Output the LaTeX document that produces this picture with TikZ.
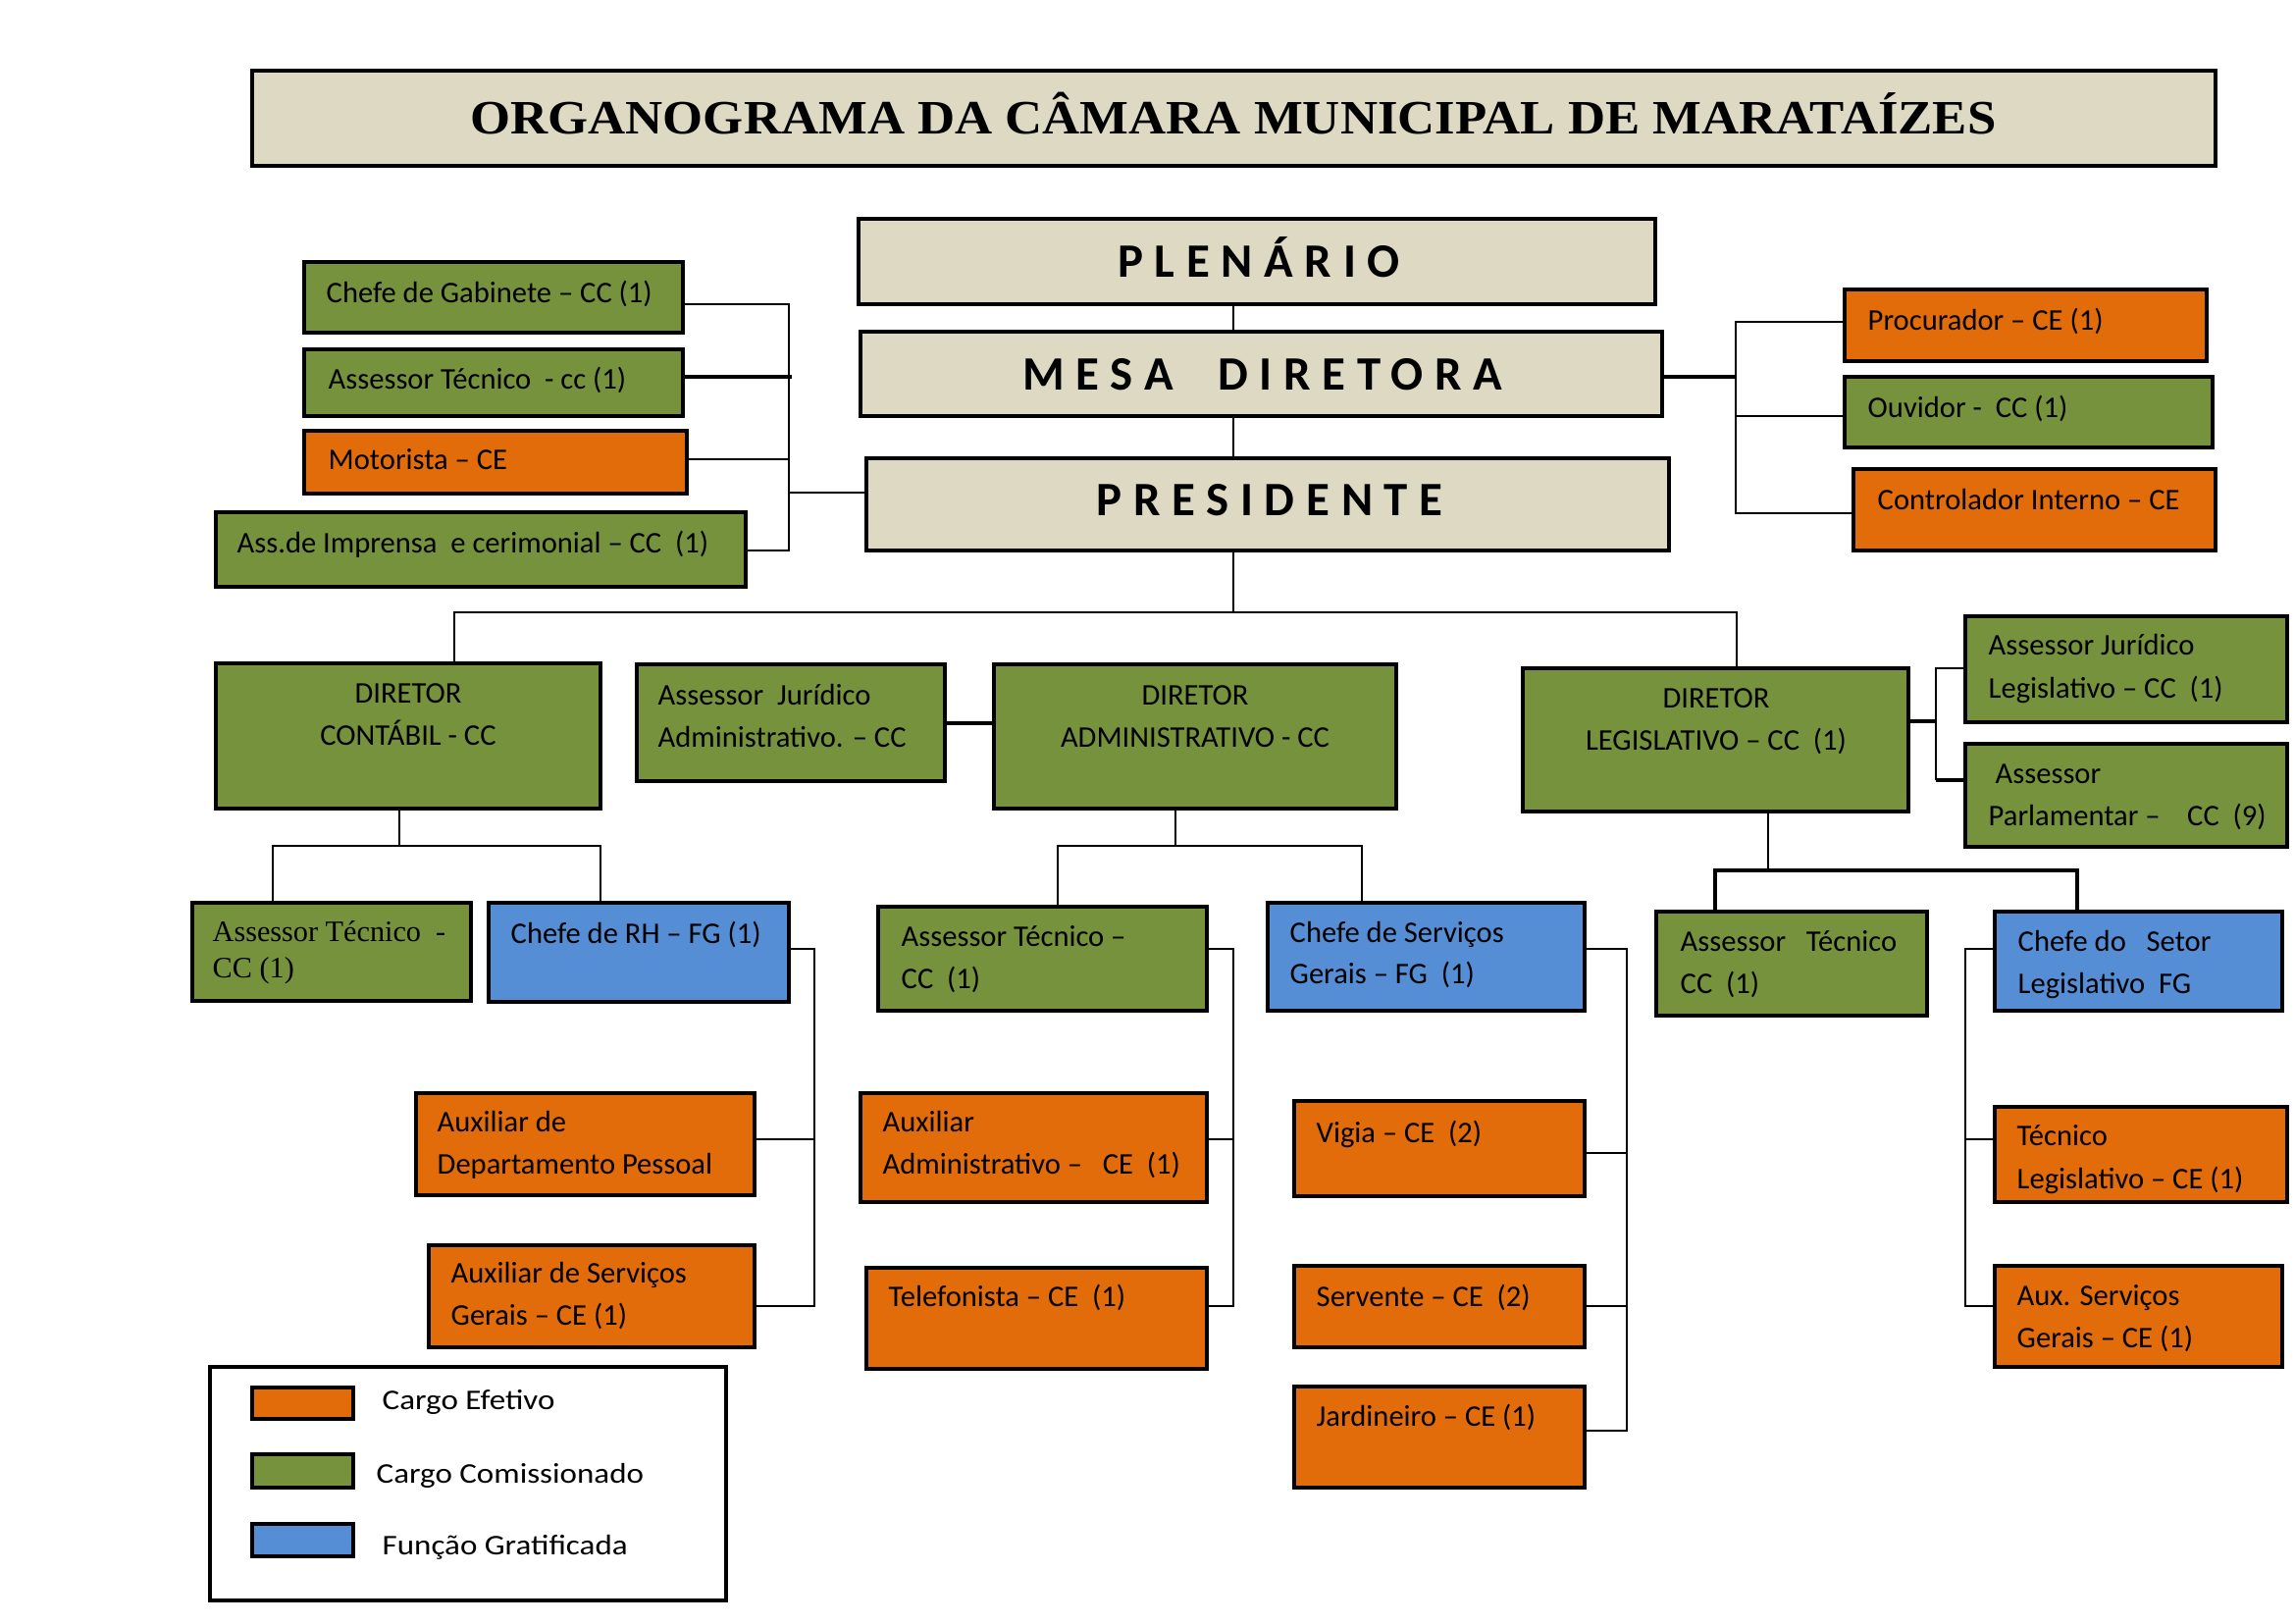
\documentclass[tikz,border=0pt]{standalone}
\usepackage{fontspec}
\setmainfont{Carlito}
\newfontfamily\tnr{Liberation Serif}
\newfontfamily\spacedfont[LetterSpace=24]{Carlito}
\usetikzlibrary{calc}
\definecolor{cgreen}{RGB}{118,146,60}
\definecolor{corange}{RGB}{227,108,10}
\definecolor{cblue}{RGB}{85,142,213}
\definecolor{cbeige}{RGB}{221,217,195}
\tikzset{
  box/.style={draw=black, line width=0.33mm, inner sep=0pt},
  ln/.style={draw=black, line width=0.27mm},
  thk/.style={draw=black, line width=0.4mm},
  txt/.style={inner sep=0pt, font=\fontsize{8.7}{11}\selectfont, text=black},
  stxt/.style={inner sep=0pt, font=\tnr\fontsize{8.6}{10}\selectfont, text=black},
  bigtxt/.style={inner sep=0pt, font=\spacedfont\bfseries\fontsize{13.9}{16}\selectfont, text=black},
}
\newcommand\bx[6]{\node[box,fill=#6,minimum width={(#4-#2)*0.1mm},minimum height={(#5-#3)*0.1mm}] (#1) at ({(#2+#4)/2},{(#3+#5)/2}) {};}
\newcommand\tl[4]{\node[txt,anchor=base west] (#1) at (#2,#3) {#4};}
\newcommand\tc[4]{\node[txt,anchor=base] (#1) at (#2,#3) {#4};}
\newcommand\legtxt[4]{\node[txt,anchor=base west] (#1) at (#2,#3) {\scalebox{1.08}[0.95]{#4}};}
\begin{document}
\begin{tikzpicture}[x=0.1mm,y=-0.1mm]
\useasboundingbox[fill=white] (0,0) rectangle (2339,1654);
% ---------- boxes ----------
\bx{title}{257}{72}{2258}{169}{cbeige}
\bx{plen}{875}{223}{1687}{310}{cbeige}
\bx{mesa}{877}{338}{1694}{424}{cbeige}
\bx{pres}{883}{467}{1701}{561}{cbeige}
\bx{cg}{310}{267}{696}{339}{cgreen}
\bx{at1}{310}{356}{696}{424}{cgreen}
\bx{mot}{310}{439}{700}{503}{corange}
\bx{imp}{220}{522}{760}{598}{cgreen}
\bx{proc}{1880}{295}{2249}{368}{corange}
\bx{ouv}{1880}{384}{2255}{456}{cgreen}
\bx{ctrl}{1889}{478}{2258}{561}{corange}
\bx{dc}{220}{676}{612}{824}{cgreen}
\bx{aja}{649}{677}{963}{796}{cgreen}
\bx{da}{1013}{677}{1423}{824}{cgreen}
\bx{dl}{1552}{681}{1945}{827}{cgreen}
\bx{ajl}{2003}{628}{2331}{736}{cgreen}
\bx{ap}{2003}{758}{2331}{863}{cgreen}
\bx{atc}{196}{920}{480}{1020}{cgreen}
\bx{rh}{498}{920}{804}{1021}{cblue}
\bx{ata}{895}{924}{1230}{1030}{cgreen}
\bx{csg}{1292}{920}{1615}{1030}{cblue}
\bx{atl}{1688}{929}{1964}{1035}{cgreen}
\bx{cs}{2033}{929}{2326}{1030}{cblue}
\bx{adp}{424}{1114}{769}{1218}{corange}
\bx{asg}{437}{1269}{769}{1373}{corange}
\bx{aad}{877}{1114}{1230}{1225}{corange}
\bx{tel}{883}{1292}{1230}{1395}{corange}
\bx{vig}{1319}{1122}{1615}{1219}{corange}
\bx{ser}{1319}{1290}{1615}{1373}{corange}
\bx{jar}{1319}{1413}{1615}{1516}{corange}
\bx{tec}{2033}{1128}{2331}{1225}{corange}
\bx{axs}{2033}{1290}{2326}{1393}{corange}
\bx{leg}{214}{1393}{740}{1631}{white}
\bx{sw1}{257}{1414}{360}{1446}{corange}
\bx{sw2}{257}{1482}{360}{1516}{cgreen}
\bx{sw3}{257}{1553}{360}{1586}{cblue}
% ---------- texts ----------
\node[inner sep=0pt, anchor=base, font=\tnr\bfseries\fontsize{13.9}{16}\selectfont] (ttitle) at (1257,136) {\scalebox{1.08}[1]{ORGANOGRAMA DA CÂMARA MUNICIPAL DE MARATAÍZES}};
\node[bigtxt, anchor=base] (tplen) at (1283,282) {PLENÁRIO};
\node[bigtxt, anchor=base] (tmesa) at (1287,397) {MESA\ \ DIRETORA};
\node[bigtxt, anchor=base] (tpres) at (1294,525) {PRESIDENTE};
\tl{tcg}{332}{308}{Chefe de Gabinete – CC (1)}
\tl{tat1}{334}{396}{Assessor Técnico \ - cc (1)}
\tl{tmot}{334}{478}{Motorista – CE}
\tl{timp}{241}{563}{Ass.de Imprensa \ e cerimonial – CC \ (1)}
\tl{tproc}{1903}{336}{Procurador – CE (1)}
\tl{touv}{1903}{425}{Ouvidor - \ CC (1)}
\tl{tctrl}{1913}{519}{Controlador Interno – CE}
\tc{tdc1}{416}{716}{DIRETOR}
\tc{tdc2}{416}{759}{CONTÁBIL - CC}
\tl{taja1}{670}{718}{Assessor \ Jurídico}
\tl{taja2}{670}{761}{Administrativo. – CC}
\tc{tda1}{1218}{718}{DIRETOR}
\tc{tda2}{1218}{761}{ADMINISTRATIVO - CC}
\tc{tdl1}{1749}{721}{DIRETOR}
\tc{tdl2}{1749}{764}{LEGISLATIVO – CC \ (1)}
\tl{tajl1}{2026}{667}{Assessor Jurídico}
\tl{tajl2}{2026}{711}{Legislativo – CC \ (1)}
\tl{tap1}{2033}{798}{Assessor}
\tl{tap2}{2026}{841}{Parlamentar – \ \ \ CC \ (9)}
\node[stxt, anchor=base west] (tatc1) at (216,959) {Assessor Técnico \ -};
\node[stxt, anchor=base west] (tatc2) at (216,996) {CC (1)};
\tl{trh}{520}{961}{Chefe de RH – FG (1)}
\tl{tata1}{918}{964}{Assessor Técnico –}
\tl{tata2}{918}{1007}{CC \ (1)}
\tl{tcsg1}{1314}{960}{Chefe de Serviços}
\tl{tcsg2}{1314}{1002}{Gerais – FG \ (1)}
\tl{tatl1}{1712}{969}{Assessor \ \ Técnico}
\tl{tatl2}{1712}{1012}{CC \ (1)}
\tl{tcs1}{2056}{969}{Chefe do \ \ Setor}
\tl{tcs2}{2056}{1012}{Legislativo \ FG}
\tl{tadp1}{445}{1153}{Auxiliar de}
\tl{tadp2}{445}{1196}{Departamento Pessoal}
\tl{tasg1}{459}{1307}{Auxiliar de Serviços}
\tl{tasg2}{459}{1350}{Gerais – CE (1)}
\tl{taad1}{899}{1153}{Auxiliar}
\tl{taad2}{899}{1196}{Administrativo – \ \ CE \ (1)}
\tl{ttel}{905}{1331}{Telefonista – CE \ (1)}
\tl{tvig}{1341}{1164}{Vigia – CE \ (2)}
\tl{tser}{1341}{1331}{Servente – CE \ (2)}
\tl{tjar}{1341}{1453}{Jardineiro – CE (1)}
\tl{ttec1}{2055}{1167}{Técnico}
\tl{ttec2}{2055}{1211}{Legislativo – CE (1)}
\tl{taxs1}{2055}{1330}{Aux. Serviços}
\tl{taxs2}{2055}{1373}{Gerais – CE (1)}
\legtxt{tl1}{389}{1436}{Cargo Efetivo}
\legtxt{tl2}{383}{1511}{Cargo Comissionado}
\legtxt{tl3}{389}{1584}{Função Gratificada}
% ---------- connector coordinates ----------
\coordinate (cx) at (1257,0);
\coordinate (busL) at (463,624);
\coordinate (busM) at (1257,624);
\coordinate (busR) at (1770,624);
\coordinate (lbT) at (804,310);
\coordinate (lb2) at (807,384);
\coordinate (lb3) at (804,468);
\coordinate (lbP) at (804,502);
\coordinate (lbB) at (804,561);
\coordinate (rbT) at (1769,328);
\coordinate (rbM) at (1769,384);
\coordinate (rb2) at (1769,424);
\coordinate (rbB) at (1769,523);
\coordinate (c1) at (407,862);
\coordinate (c1L) at (278,862);
\coordinate (c1R) at (612,862);
\coordinate (r1) at (830,967);
\coordinate (r2) at (830,1161);
\coordinate (r3) at (830,1331);
\coordinate (a1) at (1198,862);
\coordinate (aL) at (1078,862);
\coordinate (aR) at (1388,862);
\coordinate (b1) at (1257,967);
\coordinate (b2) at (1257,1161);
\coordinate (b3) at (1257,1331);
\coordinate (s1) at (1658,967);
\coordinate (s2) at (1658,1175);
\coordinate (s3) at (1658,1331);
\coordinate (s4) at (1658,1458);
\coordinate (l0) at (1973,735);
\coordinate (lT) at (1973,681);
\coordinate (lB) at (1973,795);
\coordinate (d1) at (1802,887);
\coordinate (dL) at (1748,887);
\coordinate (dR) at (2117,887);
\coordinate (e1) at (2003,967);
\coordinate (e2) at (2003,1161);
\coordinate (e3) at (2003,1331);
% ---------- connectors ----------
\draw[ln] (plen.south -| cx) -- (mesa.north -| cx);
\draw[ln] (mesa.south -| cx) -- (pres.north -| cx);
\draw[ln] (pres.south -| cx) -- (busM);
\draw[ln] (dc.north -| busL) -- (busL) -- (busR) -- (dl.north -| busR);
% left bracket
\draw[ln] (cg.east |- lbT) -- (lbT) -- (lbB) -- (imp.east |- lbB);
\draw[thk] (at1.east |- lb2) -- (lb2);
\draw[ln] (mot.east |- lb3) -- (lb3);
\draw[ln] (lbP) -- (pres.west |- lbP);
% right bracket
\draw[thk] (mesa.east |- rbM) -- (rbM);
\draw[ln] (proc.west |- rbT) -- (rbT) -- (rbB) -- (ctrl.west |- rbB);
\draw[ln] (ouv.west |- rb2) -- (rb2);
% assessor juridico administrativo
\draw[thk] (aja.east) -- (da.west |- aja.east);
% diretor contabil
\draw[ln] (dc.south -| c1) -- (c1);
\draw[ln] (atc.north -| c1L) -- (c1L) -- (c1R) -- (rh.north -| c1R);
\draw[ln] (rh.east |- r1) -- (r1) -- (r3) -- (asg.east |- r3);
\draw[ln] (adp.east |- r2) -- (r2);
% diretor administrativo
\draw[ln] (da.south -| a1) -- (a1);
\draw[ln] (ata.north -| aL) -- (aL) -- (aR) -- (csg.north -| aR);
\draw[ln] (ata.east |- b1) -- (b1) -- (b3) -- (tel.east |- b3);
\draw[ln] (aad.east |- b2) -- (b2);
\draw[ln] (csg.east |- s1) -- (s1) -- (s4) -- (jar.east |- s4);
\draw[ln] (vig.east |- s2) -- (s2);
\draw[ln] (ser.east |- s3) -- (s3);
% diretor legislativo
\draw[thk] (dl.east |- l0) -- (l0);
\draw[ln] (ajl.west |- lT) -- (lT) -- (lB);
\draw[thk] (lB) -- (ap.west |- lB);
\draw[ln] (dl.south -| d1) -- (d1);
\draw[thk] (atl.north -| dL) -- (dL) -- (dR) -- (cs.north -| dR);
\draw[ln] (cs.west |- e1) -- (e1) -- (e3) -- (axs.west |- e3);
\draw[ln] (tec.west |- e2) -- (e2);
\end{tikzpicture}
\end{document}
